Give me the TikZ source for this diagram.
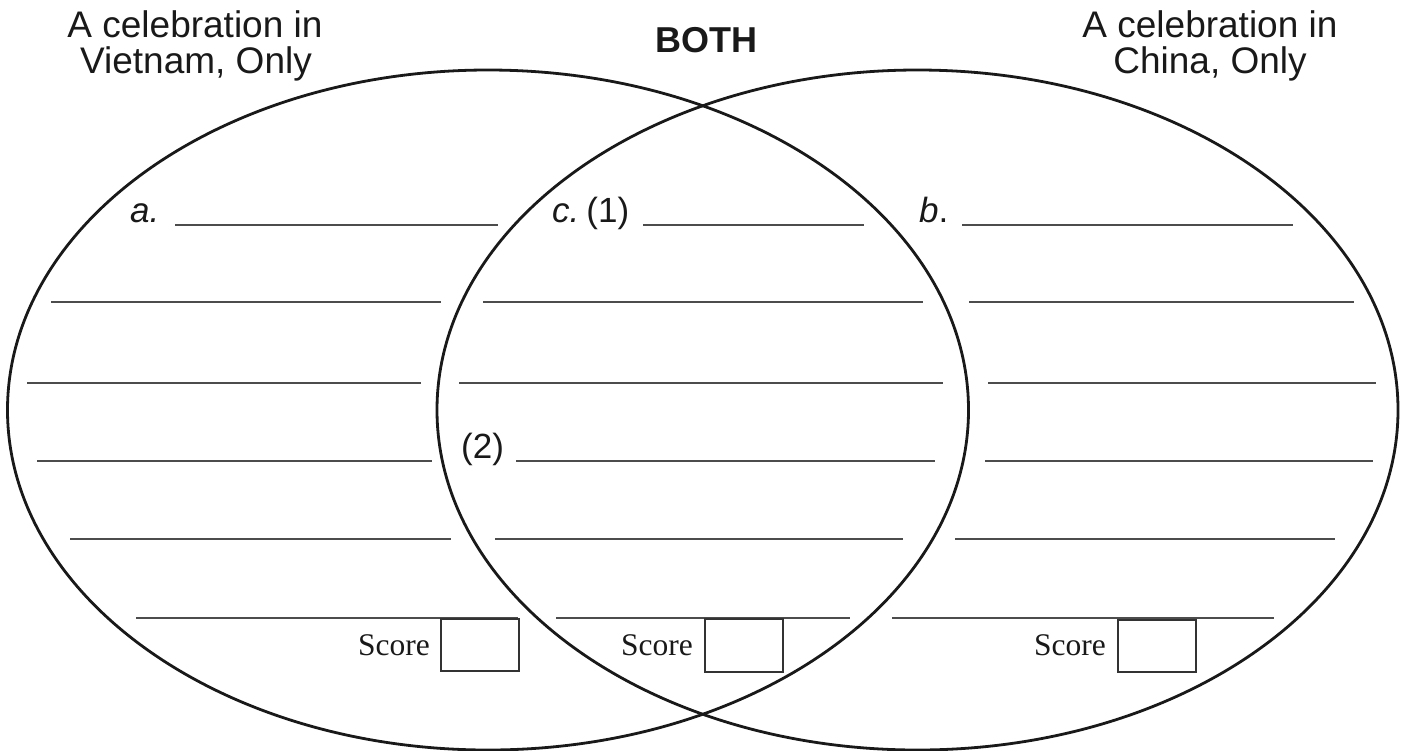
\documentclass[tikz,border=0pt]{standalone}
\usepackage{fontspec}
\setmainfont{Liberation Sans}
\newfontfamily\scorefont{Liberation Serif}
\begin{document}
\begin{tikzpicture}[x=1pt,y=-1pt,
  venn/.style={draw=black!90, line width=2.8pt},
  rule/.style={draw=black!70, line width=1.4pt},
  scorebox/.style={draw=black!80, line width=1.3pt},
  title/.style={font=\fontsize{37}{37}\selectfont, text=black!90, inner sep=0pt, anchor=base},
  lab/.style={font=\fontsize{35}{35}\selectfont, text=black!90, inner sep=0pt, anchor=base west},
  scoretxt/.style={font=\scorefont\fontsize{31.5}{31.5}\selectfont, text=black!90, inner sep=0pt, anchor=base east}]
\useasboundingbox (0,0) rectangle (1404,750);
% ellipses
\draw[venn] (488,410) ellipse [x radius=480.5, y radius=340];
\draw[venn] (917.5,410) ellipse [x radius=480.5, y radius=340];
% titles
\node[title] (tl1) at (195,37) {A celebration in};
\node[title] (tl2) at (196,73) {Vietnam, Only};
\node[title] (tr1) at (1210,37) {A celebration in};
\node[title] (tr2) at (1210,73) {China, Only};
\node[title, font=\fontsize{36}{36}\selectfont\bfseries] (both) at (706,52) {BOTH};
% labels
\node[lab] (la) at (130,222) {\textit{a.}};
\node[lab] (lc) at (552,222) {\textit{c.}\hspace{0.2em}(1)};
\node[lab] (lb) at (919,222) {\textit{b}.};
\node[lab] (l2) at (461,458) {(2)};
% writing lines
\foreach \y/\a/\b/\c/\d/\e/\f in {
  225/175/498/643/864/962/1293,
  302/51/441/483/923/969/1354,
  383/27/421/459/943/988/1376,
  461/37/432/516/935/985/1373,
  539/70/451/495/903/955/1335,
  618/136/518/556/850/892/1274}{
  \draw[rule] (\a,\y) -- (\b,\y);
  \draw[rule] (\c,\y) -- (\d,\y);
  \draw[rule] (\e,\y) -- (\f,\y);
}
% score boxes
\node[scoretxt] (s1) at (430,655) {Score};
\node[scoretxt] (s2) at (693,655) {Score};
\node[scoretxt] (s3) at (1106,655) {Score};
\draw[scorebox] (441,619) rectangle (519,671);
\draw[scorebox] (705,619) rectangle (783,672);
\draw[scorebox] (1118,620) rectangle (1196,672);
\end{tikzpicture}
\end{document}
